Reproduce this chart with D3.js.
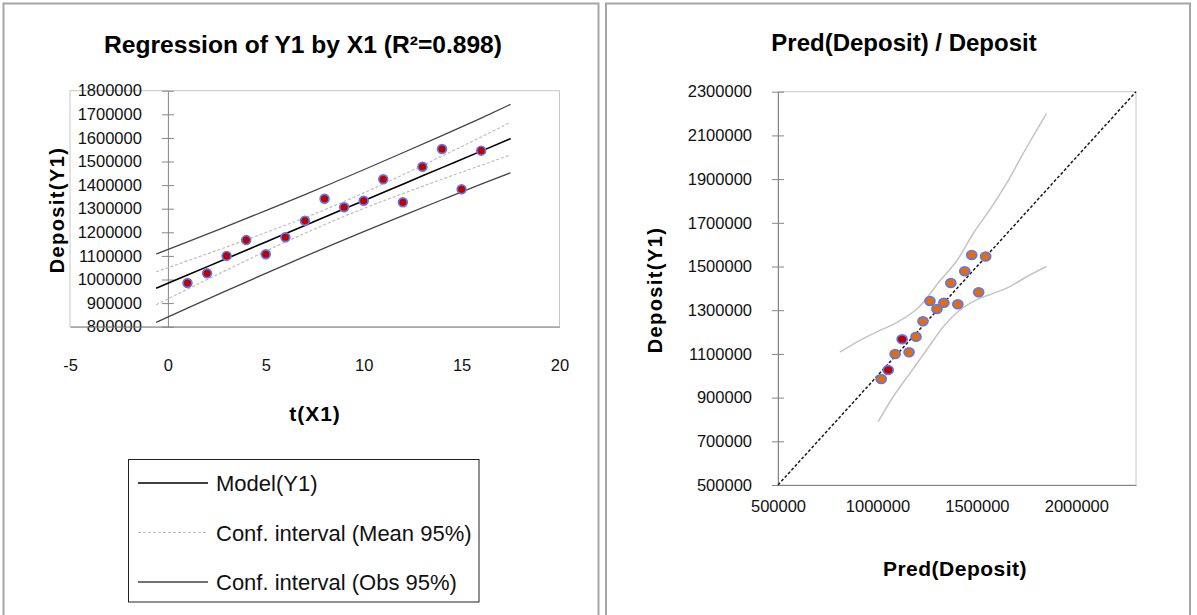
<!DOCTYPE html>
<html>
<head>
<meta charset="utf-8">
<script src="https://cdn.jsdelivr.net/npm/d3@7"></script>
<style>
body{margin:0;background:#fff;}
text{font-family:"Liberation Sans",Arial,sans-serif;}
</style>
</head>
<body>
<div id="container"></div>
<script>
// observations : time index and deposits
var tValues=[1,2,3,4,5,6,7,8,9,10,11,12,13,14,15,16];
var deposit=[985000,1026000,1100000,1167000,1107000,1179000,1249000,1342000,1306000,1334000,1425000,1327000,1478000,1553000,1382000,1546000];
var predDeposit=[1019000,1054000,1089000,1124000,1159000,1194000,1229000,1264000,1299000,1334000,1369000,1404000,1439000,1474000,1509000,1544000];
var predColor=["o","r","o","r","o","o","o","o","o","o","o","o","o","o","o","o"];

// model line and confidence bands (left chart), read at these t
var bandT=[-0.6,1,3,5,7,8.5,10,12,14,16,17.5];
var modelFit=[963000,1019000,1089000,1159000,1229000,1282000,1334000,1404000,1474000,1544000,1597000];
var meanUpper=[1033000,1079000,1138000,1199000,1262000,1313000,1367000,1444000,1523000,1604000,1666000];
var meanLower=[893000,959000,1040000,1120000,1196000,1250000,1301000,1364000,1425000,1484000,1528000];
var obsUpper=[1108000,1159000,1225000,1292000,1360000,1412000,1465000,1537000,1610000,1684000,1742000];
var obsLower=[818000,879000,953000,1026000,1098000,1151000,1203000,1271000,1338000,1404000,1452000];

// bands on the right chart
var upperCurveX=[811000,912000,1000000,1096000,1213000,1314000,1398000,1481000,1565000,1649000,1733000,1850000];
var upperCurveY=[1108000,1162000,1202000,1243000,1318000,1435000,1525000,1650000,1760000,1880000,2018000,2200000];
var lowerCurveX=[1004000,1079000,1163000,1247000,1331000,1415000,1498000,1582000,1666000,1750000,1850000];
var lowerCurveY=[790000,904000,1011000,1118000,1224000,1301000,1347000,1377000,1408000,1453000,1500000];
var diagLine=[500000,2300000];

// ticks and labels
var leftXTicks=[-5,0,5,10,15,20];
var leftYTicks=d3.range(800000,1800001,100000);
var rightXTicks=[500000,1000000,1500000,2000000];
var rightYTicks=d3.range(500000,2300001,200000);
var legendLabels=["Model(Y1)","Conf. interval (Mean 95%)","Conf. interval (Obs 95%)"];

function plain(d){return String(d);}   // keep "-5" with a hyphen, no thousands sep

function styleAxis(g,cross){
    g.attr("font-family","Liberation Sans, Arial, sans-serif").attr("font-size",16.5);
    g.select(".domain").style("stroke","#868686");
    g.selectAll(".tick line").style("stroke","#868686").attr(cross,6);
    g.selectAll(".tick text").style("fill","#111");
}

function init(){
    var svg=d3.select("#container").append("svg").attr("width",1197).attr("height",615);
    svg.append("rect").attr("x",0).attr("y",0).attr("width",1197).attr("height",615).style("fill","#fff");

    // panel frames
    svg.append("rect").attr("x",3.5).attr("y",3.5).attr("width",595).attr("height",620)
        .style("fill","none").style("stroke","#a6a6a6").style("stroke-width",2);
    svg.append("rect").attr("x",606).attr("y",3.5).attr("width",584).attr("height",620)
        .style("fill","none").style("stroke","#a6a6a6").style("stroke-width",2);

    //---------------------------------------------------------------//
    //                      LEFT : REGRESSION                        //
    //---------------------------------------------------------------//
    var xL=d3.scaleLinear().domain([-5,20]).range([70,559.5]);
    var yL=d3.scaleLinear().domain([800000,1800000]).range([326.7,90.7]);

    svg.append("rect").attr("x",xL(-5)).attr("y",yL(1800000))
        .attr("width",xL(20)-xL(-5)).attr("height",yL(800000)-yL(1800000))
        .style("fill","none").style("stroke","#c8c8c8");

    var gy=svg.append("g").attr("transform","translate("+xL(0)+",0)")
        .call(d3.axisLeft(yL).tickValues(leftYTicks).tickSize(6).tickSizeOuter(0).tickPadding(20).tickFormat(plain));
    styleAxis(gy,"x1");
    var gx=svg.append("g").attr("transform","translate(0,"+yL(800000)+")")
        .call(d3.axisBottom(xL).tickValues(leftXTicks).tickSize(6).tickSizeOuter(0).tickPadding(26.5).tickFormat(plain));
    styleAxis(gx,"y1");

    var lineL=d3.line().x(function(d){return xL(d[0]);}).y(function(d){return yL(d[1]);}).curve(d3.curveMonotoneX);
    function pairs(xs,ys){return xs.map(function(x,i){return [x,ys[i]];});}

    [obsUpper,obsLower].forEach(function(s){
        svg.append("path").attr("d",lineL(pairs(bandT,s)))
            .style("fill","none").style("stroke","#454545").style("stroke-width",1.3);
    });
    [meanUpper,meanLower].forEach(function(s){
        svg.append("path").attr("d",lineL(pairs(bandT,s)))
            .style("fill","none").style("stroke","#bdbdbd").style("stroke-width",1.2).style("stroke-dasharray","3,2");
    });
    svg.append("path").attr("d",lineL(pairs(bandT,modelFit)))
        .style("fill","none").style("stroke","#000").style("stroke-width",1.6);

    svg.append("g").selectAll("circle").data(pairs(tValues,deposit)).enter().append("circle")
        .attr("cx",function(d){return xL(d[0]);}).attr("cy",function(d){return yL(d[1]);})
        .attr("r",4.4).style("fill","#c00000").style("stroke","#5a78f0").style("stroke-width",1.7);

    svg.append("text").attr("x",303).attr("y",53).attr("text-anchor","middle")
        .style("font-weight","bold").style("font-size","24.6px").text("Regression of Y1 by X1 (R²=0.898)");
    svg.append("text").attr("transform","translate(57,210) rotate(-90)").attr("text-anchor","middle")
        .attr("dominant-baseline","central").style("font-weight","bold").style("font-size","20px")
        .style("letter-spacing","1.4px").text("Deposit(Y1)");
    svg.append("text").attr("x",315).attr("y",421).attr("text-anchor","middle")
        .style("font-weight","bold").style("font-size","21px").style("letter-spacing","1px").text("t(X1)");

    // legend
    svg.append("rect").attr("x",128.5).attr("y",459.5).attr("width",350.5).attr("height",142.5)
        .style("fill","#fff").style("stroke","#222");
    var legStyles=[{c:"#000",w:1.6,d:null},{c:"#bdbdbd",w:1.2,d:"3,2"},{c:"#454545",w:1.3,d:null}];
    legendLabels.forEach(function(lab,i){
        var y=483+i*49.5;
        svg.append("line").attr("x1",138).attr("x2",208).attr("y1",y).attr("y2",y)
            .style("stroke",legStyles[i].c).style("stroke-width",legStyles[i].w).style("stroke-dasharray",legStyles[i].d);
        svg.append("text").attr("x",216).attr("y",y+8).style("font-size","22px").style("fill","#111").text(lab);
    });

    //---------------------------------------------------------------//
    //                 RIGHT : PRED(DEPOSIT) / DEPOSIT                //
    //---------------------------------------------------------------//
    var xR=d3.scaleLinear().domain([500000,2300000]).range([778,1136]);
    var yR=d3.scaleLinear().domain([500000,2300000]).range([485,91.7]);

    svg.append("rect").attr("x",xR(500000)).attr("y",yR(2300000))
        .attr("width",xR(2300000)-xR(500000)).attr("height",yR(500000)-yR(2300000))
        .style("fill","none").style("stroke","#c8c8c8");

    var gyR=svg.append("g").attr("transform","translate("+xR(500000)+",0)")
        .call(d3.axisLeft(yR).tickValues(rightYTicks).tickSize(6).tickSizeOuter(0).tickPadding(20).tickFormat(plain));
    styleAxis(gyR,"x1");
    var gxR=svg.append("g").attr("transform","translate(0,"+yR(500000)+")")
        .call(d3.axisBottom(xR).tickValues(rightXTicks).tickSize(6).tickSizeOuter(0).tickPadding(9.5).tickFormat(plain));
    styleAxis(gxR,"y1");

    var lineR=d3.line().x(function(d){return xR(d[0]);}).y(function(d){return yR(d[1]);}).curve(d3.curveMonotoneX);
    svg.append("path").attr("d",lineR(pairs(upperCurveX,upperCurveY)))
        .style("fill","none").style("stroke","#c4c4c4").style("stroke-width",1.5);
    svg.append("path").attr("d",lineR(pairs(lowerCurveX,lowerCurveY)))
        .style("fill","none").style("stroke","#c4c4c4").style("stroke-width",1.5);
    svg.append("path").attr("d",d3.line().x(function(d){return xR(d);}).y(function(d){return yR(d);})(diagLine))
        .style("fill","none").style("stroke","#1a1a1a").style("stroke-width",1.5).style("stroke-dasharray","3,2");

    svg.append("g").selectAll("ellipse").data(pairs(predDeposit,deposit)).enter().append("ellipse")
        .attr("cx",function(d){return xR(d[0]);}).attr("cy",function(d){return yR(d[1]);})
        .attr("rx",5).attr("ry",4.4)
        .style("fill",function(d,i){return predColor[i]=="r"?"#c00000":"#e46c0a";})
        .style("stroke","#5a78f0").style("stroke-width",1.7);

    svg.append("text").attr("x",904).attr("y",51).attr("text-anchor","middle")
        .style("font-weight","bold").style("font-size","24px").text("Pred(Deposit) / Deposit");
    svg.append("text").attr("transform","translate(655,290) rotate(-90)").attr("text-anchor","middle")
        .attr("dominant-baseline","central").style("font-weight","bold").style("font-size","20px")
        .style("letter-spacing","1.4px").text("Deposit(Y1)");
    svg.append("text").attr("x",955).attr("y",576).attr("text-anchor","middle")
        .style("font-weight","bold").style("font-size","21px").style("letter-spacing","0.5px").text("Pred(Deposit)");
}
init();
</script>
</body>
</html>
